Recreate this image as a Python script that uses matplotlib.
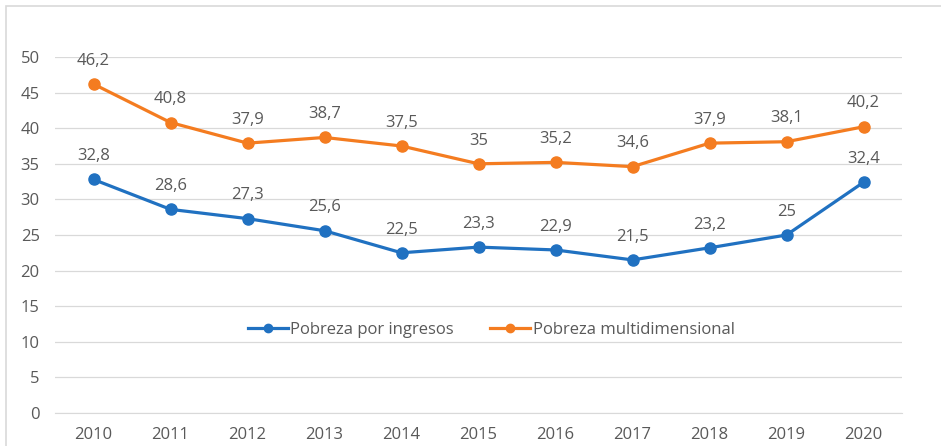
import matplotlib
matplotlib.use("Agg")
import matplotlib.pyplot as plt
from matplotlib.patches import Rectangle
from matplotlib.lines import Line2D

years = ["2010", "2011", "2012", "2013", "2014", "2015", "2016", "2017", "2018", "2019", "2020"]
ingresos = [32.8, 28.6, 27.3, 25.6, 22.5, 23.3, 22.9, 21.5, 23.2, 25.0, 32.4]
multidim = [46.2, 40.8, 37.9, 38.7, 37.5, 35.0, 35.2, 34.6, 37.9, 38.1, 40.2]
yticks = [0, 5, 10, 15, 20, 25, 30, 35, 40, 45, 50]

plt.rcParams['font.family'] = ['Open Sans', 'DejaVu Sans']
gray = "#595959"
blue = "#2071C1"
orange = "#F47C20"

fig = plt.figure(figsize=(9.41, 4.46), dpi=100)
ax = fig.add_axes([55/941, 1 - 413/446, (902-55)/941, (413-57)/446])

x = list(range(len(years)))
ax.plot(x, ingresos, color=blue, lw=2.3, marker='o', ms=8, zorder=3)
ax.plot(x, multidim, color=orange, lw=2.3, marker='o', ms=8, zorder=3)

def fmt(v):
    s = ("%.1f" % v).replace(".", ",")
    if s.endswith(",0"):
        s = s[:-2]
    return s

fs = 12
for xi, v in zip(x, ingresos):
    ax.annotate(fmt(v), (xi, v), xytext=(0, 11), textcoords="offset points",
                ha="center", va="bottom", fontsize=fs, color=gray)
for xi, v in zip(x, multidim):
    ax.annotate(fmt(v), (xi, v), xytext=(0, 11), textcoords="offset points",
                ha="center", va="bottom", fontsize=fs, color=gray)

ax.set_xlim(-0.5, len(years) - 0.5)
ax.set_ylim(0, 50)
ax.set_yticks(yticks)
ax.set_yticklabels([str(t) for t in yticks])
ax.set_xticks(x)
ax.set_xticklabels(years)
ax.tick_params(axis='both', length=0, labelsize=fs, labelcolor=gray)
ax.tick_params(axis='y', pad=11)
ax.tick_params(axis='x', pad=10)
ax.grid(axis='y', color="#D9D9D9", lw=0.9)
ax.set_axisbelow(True)
for s in ["top", "right", "left"]:
    ax.spines[s].set_visible(False)
ax.spines["bottom"].set_color("#D9D9D9")

handles = [Line2D([], [], color=blue, lw=2.3, marker='o', ms=6),
           Line2D([], [], color=orange, lw=2.3, marker='o', ms=6)]
labels = ["Pobreza por ingresos", "Pobreza multidimensional"]
ax.legend(handles, labels, loc="center", bbox_to_anchor=(0.515, (413-330)/356), ncol=2, frameon=False,
          fontsize=fs, labelcolor=gray, handlelength=2.4, columnspacing=2.2, handletextpad=0.15)

fig.patches.append(Rectangle((6/941, -0.1), 1.2, 1 - 6/446 + 0.1, transform=fig.transFigure,
                             fill=False, edgecolor="#D9D9D9", lw=1.2))

fig.savefig("out.png", dpi=100)
